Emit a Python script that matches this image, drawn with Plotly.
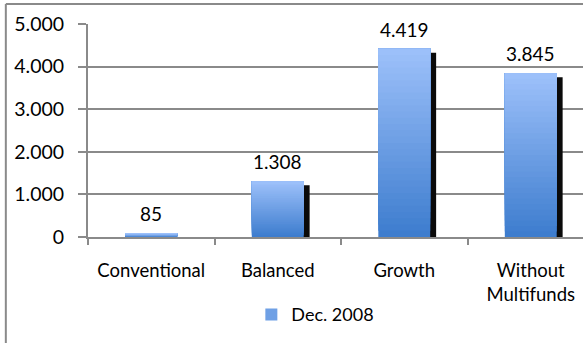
import plotly.graph_objects as go

categories = ["Conventional", "Balanced", "Growth", "Without<br>Multifunds"]
values = [85, 1308, 4419, 3845]
series_name = "Dec. 2008"
y_ticks = [0, 1000, 2000, 3000, 4000, 5000]

FONT = "Lato"
GRID = "#8a8a8a"
TOP = (156, 192, 250)
BOTTOM = (62, 125, 206)

fig = go.Figure()

# shadow bars (black, offset right/down)
shadow_drop = 95
fig.add_trace(go.Bar(
    x=categories, y=[v - shadow_drop + 70 for v in values], base=[-70] * 4,
    offset=-0.158, width=0.41, marker=dict(color="#0a0a0a", line=dict(width=0)),
    showlegend=False, hoverinfo="skip"))

# gradient bars built from overlapping segments (each reaches the bar top)
K = 30
for i in range(K):
    t = i / (K - 1)
    c = tuple(round(BOTTOM[j] + (TOP[j] - BOTTOM[j]) * t) for j in range(3))
    fig.add_trace(go.Bar(
        x=categories, y=[v * (K - i) / K for v in values], base=[v * i / K for v in values],
        offset=-0.205, width=0.41,
        marker=dict(color="rgb(%d,%d,%d)" % c, line=dict(width=0)),
        name=series_name, showlegend=(i == K // 2), hoverinfo="skip"))

# data labels
for cat, v in zip(categories, values):
    fig.add_annotation(x=cat, y=v, text=f"{v:,}".replace(",", "."), showarrow=False,
                       yanchor="bottom", yshift=6, font=dict(family=FONT, size=19, color="black"))

fig.update_layout(
    width=583, height=343, barmode="overlay", separators=",.",
    margin=dict(l=88, r=0, t=24, b=106),
    paper_bgcolor="white", plot_bgcolor="white",
    font=dict(family=FONT, size=18, color="black"),
    showlegend=True,
    legend=dict(orientation="h", x=0.33, y=-0.365, xanchor="left", yanchor="middle",
                font=dict(family=FONT, size=18), itemwidth=30, traceorder="normal"),
    xaxis=dict(type="category", range=[-0.5, 3.413], tickson="boundaries",
               ticks="outside", ticklen=6, tickwidth=2, tickcolor=GRID,
               showline=True, linecolor=GRID, linewidth=2, showgrid=False,
               ticklabelstandoff=16, tickfont=dict(family=FONT, size=18.5)),
    yaxis=dict(range=[0, 5000], tickvals=y_ticks, tickformat=",d",
               ticks="outside", ticklen=8, tickwidth=2, tickcolor=GRID,
               showline=True, linecolor=GRID, linewidth=2,
               showgrid=True, gridcolor=GRID, gridwidth=2, zeroline=False,
               ticklabelstandoff=10, tickfont=dict(family=FONT, size=19.5)),
    shapes=[
        dict(type="line", xref="paper", yref="paper", x0=-0.166, x1=1.0, y0=1.094, y1=1.094,
             line=dict(color=GRID, width=2)),
        dict(type="line", xref="paper", yref="paper", x0=-0.166, x1=-0.166, y0=1.094, y1=-0.6,
             line=dict(color=GRID, width=2)),
    ],
)

fig.write_html("out.html")
